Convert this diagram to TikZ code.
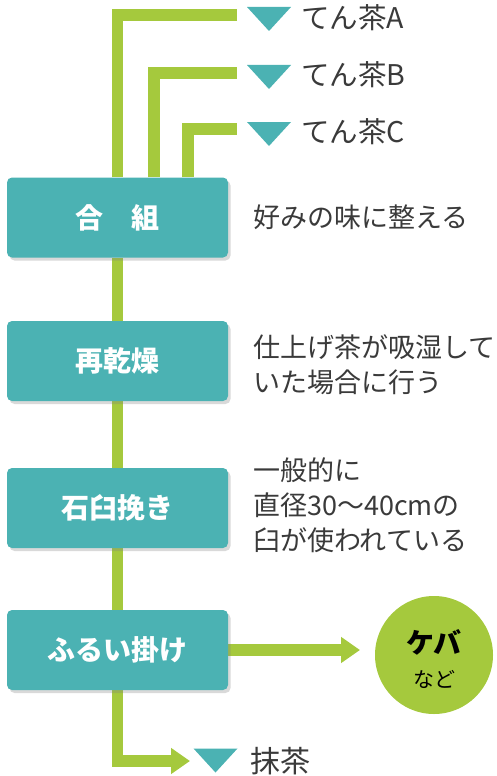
\documentclass[tikz,border=0pt]{standalone}
\usepackage{fontspec}
\setmainfont{Noto Sans CJK JP}
\usetikzlibrary{arrows.meta,shadows,backgrounds,positioning}

\definecolor{chateal}{HTML}{4BB2B3}
\definecolor{chagreen}{HTML}{A5C93D}
\definecolor{chatext}{HTML}{3A3A3A}

\tikzset{
  stepbox/.style={rectangle,rounded corners=5pt,fill=chateal,text=white,
    minimum width=221pt,minimum height=80pt,inner sep=0pt,
    font=\fontsize{28}{32}\selectfont\bfseries,
    drop shadow={shadow xshift=2.5pt,shadow yshift=-3pt,opacity=.3}},
  flow/.style={draw=chagreen,line width=11.5pt,line join=miter},
  note/.style={text=chatext,inner sep=0pt,anchor=west,align=left,
    font=\fontsize{27}{35}\selectfont},
  prod/.style={text=chatext,inner sep=0pt,anchor=west,
    font=\fontsize{28.5}{32}\selectfont},
}

% 下向きの三角
\newcommand\downtri[1]{\fill[chateal] (#1) ++(-22,-12) -- ++(44,0) -- ++(-22,24) -- cycle;}

\begin{document}
\begin{tikzpicture}[x=1pt,y=-1pt]
  \useasboundingbox (0,0) rectangle (497,776);

  % 工程
  \node[stepbox] (kumi)   at (117.5,217.5) {合　組};
  \node[stepbox] (kansou) at (117.5,361)   {再乾燥};
  \node[stepbox] (usu)    at (117.5,508)   {石臼挽き};
  \node[stepbox] (furui)  at (117.5,650)   {ふるい掛け};

  % 説明
  \node[note] (noteA) at (253,217)   {好みの味に整える};
  \node[note] (noteB) at (253,364.5) {仕上げ茶が吸湿して\\いた場合に行う};
  \node[note] (noteC) at (253,505)   {一般的に\\直径30〜40cmの\\臼が使われている};

  % てん茶
  \coordinate (endA) at (237,15);
  \coordinate (endB) at (237,73);
  \coordinate (endC) at (237,129);
  \downtri{269,19}
  \downtri{269,77}
  \downtri{269,134}
  \node[prod] (tenA) at (301,18)  {てん茶A};
  \node[prod] (tenB) at (301,75)  {てん茶B};
  \node[prod] (tenC) at (301,132) {てん茶C};

  % 抹茶
  \coordinate (matTip) at (190,761);
  \downtri{215.5,760.5}
  \node[prod,font=\fontsize{30}{32}\selectfont] (matcha) at (250,761) {抹茶};

  % ケバ
  \coordinate (kebaTip) at (360,650);
  \node[circle,fill=chagreen,minimum size=118pt,inner sep=0pt] (keba) at (434,655) {};
  \node[align=center,inner sep=0pt,font=\fontsize{28}{34}\selectfont]
    (kebaText) at ([yshift=-4pt]keba.center)
    {\bfseries ケバ\\{\fontsize{21}{24}\selectfont など}};

  \begin{scope}[on background layer]
    \draw[flow] (kumi.north) |- (endA);
    \draw[flow] ([xshift=36.5pt]kumi.north) |- (endB);
    \draw[flow] ([xshift=70.5pt]kumi.north) |- (endC);
    \draw[flow] (kumi) -- (kansou) -- (usu) -- (furui);
    \draw[flow,-{Triangle[width=25pt,length=19pt]}] (furui.south) |- (matTip);
    \draw[flow,-{Triangle[width=25pt,length=19pt]}] (furui.east) -- (kebaTip);
  \end{scope}
\end{tikzpicture}
\end{document}
